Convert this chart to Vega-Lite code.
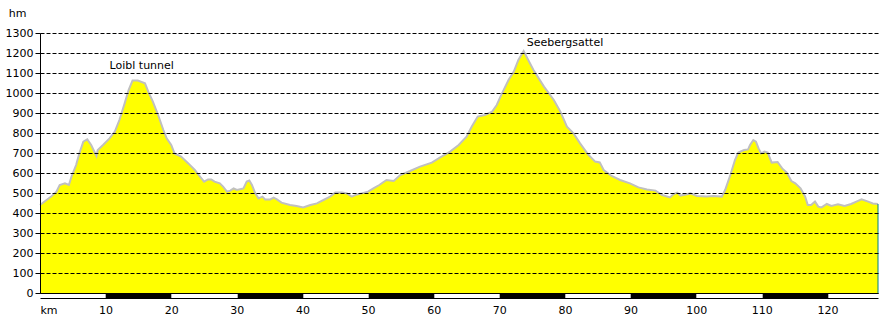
{
  "$schema": "https://vega.github.io/schema/vega-lite/v6.json",
  "width": 838,
  "height": 260,
  "autosize": "none",
  "padding": {"left": 40, "top": 33, "right": 12, "bottom": 25},
  "background": "white",
  "config": {"view": {"stroke": null}, "font": "DejaVu Sans"},
  "datasets": {
    "profile": [
      {"km": 0, "elev": 440}, {"km": 1.7, "elev": 482}, {"km": 2.5, "elev": 507}, {"km": 3.0, "elev": 540},
      {"km": 3.8, "elev": 548}, {"km": 4.4, "elev": 540}, {"km": 4.8, "elev": 582}, {"km": 5.5, "elev": 640},
      {"km": 6.0, "elev": 698}, {"km": 6.6, "elev": 757}, {"km": 7.2, "elev": 768}, {"km": 7.8, "elev": 740},
      {"km": 8.6, "elev": 685}, {"km": 8.8, "elev": 715}, {"km": 9.6, "elev": 740}, {"km": 10.6, "elev": 773},
      {"km": 11.4, "elev": 807}, {"km": 12.1, "elev": 865}, {"km": 12.9, "elev": 948}, {"km": 13.5, "elev": 1015},
      {"km": 14.1, "elev": 1062}, {"km": 14.9, "elev": 1062}, {"km": 16.0, "elev": 1048}, {"km": 16.5, "elev": 1007},
      {"km": 17.2, "elev": 957}, {"km": 18.0, "elev": 890}, {"km": 18.8, "elev": 815}, {"km": 19.3, "elev": 773},
      {"km": 20.0, "elev": 740}, {"km": 20.5, "elev": 698}, {"km": 21.5, "elev": 682}, {"km": 22.6, "elev": 648},
      {"km": 23.6, "elev": 615}, {"km": 24.3, "elev": 585}, {"km": 25.0, "elev": 557}, {"km": 25.6, "elev": 568},
      {"km": 26.1, "elev": 568}, {"km": 26.6, "elev": 557}, {"km": 27.4, "elev": 548}, {"km": 27.9, "elev": 532},
      {"km": 28.5, "elev": 507}, {"km": 29.0, "elev": 512}, {"km": 29.5, "elev": 523}, {"km": 30.0, "elev": 515},
      {"km": 31.0, "elev": 523}, {"km": 31.5, "elev": 557}, {"km": 31.9, "elev": 562}, {"km": 32.3, "elev": 540},
      {"km": 32.8, "elev": 498}, {"km": 33.3, "elev": 473}, {"km": 33.9, "elev": 482}, {"km": 34.3, "elev": 468},
      {"km": 35.1, "elev": 468}, {"km": 35.6, "elev": 477}, {"km": 36.1, "elev": 468}, {"km": 36.8, "elev": 452},
      {"km": 38.1, "elev": 440}, {"km": 39.1, "elev": 435}, {"km": 40.1, "elev": 428}, {"km": 41.2, "elev": 440},
      {"km": 42.2, "elev": 448}, {"km": 43.2, "elev": 465}, {"km": 44.2, "elev": 482}, {"km": 45.0, "elev": 502},
      {"km": 46.0, "elev": 502}, {"km": 46.8, "elev": 498}, {"km": 47.5, "elev": 482}, {"km": 48.3, "elev": 493},
      {"km": 49.0, "elev": 498}, {"km": 50.0, "elev": 507}, {"km": 50.8, "elev": 523}, {"km": 51.7, "elev": 540},
      {"km": 52.8, "elev": 565}, {"km": 53.9, "elev": 560}, {"km": 54.9, "elev": 590}, {"km": 56.4, "elev": 610},
      {"km": 57.9, "elev": 632}, {"km": 59.7, "elev": 652}, {"km": 61.0, "elev": 678}, {"km": 62.5, "elev": 707},
      {"km": 63.8, "elev": 740}, {"km": 65.0, "elev": 782}, {"km": 65.8, "elev": 832}, {"km": 66.7, "elev": 882},
      {"km": 67.8, "elev": 890}, {"km": 68.9, "elev": 907}, {"km": 69.6, "elev": 940}, {"km": 70.4, "elev": 998},
      {"km": 71.4, "elev": 1065}, {"km": 72.2, "elev": 1107}, {"km": 72.9, "elev": 1165}, {"km": 73.7, "elev": 1210},
      {"km": 74.4, "elev": 1165}, {"km": 75.2, "elev": 1115}, {"km": 76.0, "elev": 1073}, {"km": 76.8, "elev": 1032},
      {"km": 78.3, "elev": 965}, {"km": 79.3, "elev": 907}, {"km": 80.3, "elev": 832}, {"km": 81.3, "elev": 798},
      {"km": 82.3, "elev": 748}, {"km": 83.6, "elev": 690}, {"km": 84.6, "elev": 657}, {"km": 85.3, "elev": 653},
      {"km": 85.9, "elev": 615}, {"km": 87.1, "elev": 585}, {"km": 88.4, "elev": 565}, {"km": 89.9, "elev": 548},
      {"km": 91.2, "elev": 528}, {"km": 92.5, "elev": 518}, {"km": 93.8, "elev": 512}, {"km": 94.8, "elev": 490},
      {"km": 96.0, "elev": 478}, {"km": 96.5, "elev": 493}, {"km": 97.1, "elev": 502}, {"km": 97.6, "elev": 487},
      {"km": 99.1, "elev": 498}, {"km": 100.1, "elev": 485}, {"km": 101.6, "elev": 482}, {"km": 102.6, "elev": 485},
      {"km": 103.9, "elev": 482}, {"km": 104.4, "elev": 515}, {"km": 105.2, "elev": 590}, {"km": 105.9, "elev": 665},
      {"km": 106.4, "elev": 702}, {"km": 107.3, "elev": 715}, {"km": 107.9, "elev": 718}, {"km": 108.2, "elev": 740},
      {"km": 108.7, "elev": 765}, {"km": 109.1, "elev": 757}, {"km": 109.5, "elev": 723}, {"km": 109.9, "elev": 698},
      {"km": 110.4, "elev": 707}, {"km": 110.9, "elev": 702}, {"km": 111.5, "elev": 652}, {"km": 112.4, "elev": 655},
      {"km": 113.1, "elev": 623}, {"km": 113.8, "elev": 602}, {"km": 114.5, "elev": 560}, {"km": 115.1, "elev": 548},
      {"km": 115.9, "elev": 523}, {"km": 116.6, "elev": 482}, {"km": 117.0, "elev": 440}, {"km": 117.5, "elev": 440},
      {"km": 118.1, "elev": 457}, {"km": 118.6, "elev": 432}, {"km": 119.1, "elev": 428}, {"km": 119.9, "elev": 445},
      {"km": 120.6, "elev": 435}, {"km": 121.6, "elev": 443}, {"km": 122.6, "elev": 435}, {"km": 123.6, "elev": 445},
      {"km": 124.4, "elev": 457}, {"km": 125.2, "elev": 468}, {"km": 126.2, "elev": 457}, {"km": 126.9, "elev": 448},
      {"km": 127.7, "elev": 445}
    ],
    "places": [
      {"km": 15.5, "elev": 1133, "label": "Loibl tunnel"},
      {"km": 80.0, "elev": 1248, "label": "Seebergsattel"}
    ]
  },
  "resolve": {"axis": {"x": "independent"}},
  "encoding": {
    "y": {
      "field": "elev", "type": "quantitative",
      "scale": {"domain": [0, 1300], "nice": false},
      "axis": {
        "orient": "left",
        "values": [0, 100, 200, 300, 400, 500, 600, 700, 800, 900, 1000, 1100, 1200, 1300],
        "format": "d",
        "labelOverlap": false,
        "grid": true,
        "gridColor": "black",
        "gridDash": [4, 2],
        "gridWidth": 1,
        "gridOpacity": 1,
        "tickSize": 5,
        "tickColor": "black",
        "domainColor": "black",
        "labelFont": "DejaVu Sans",
        "labelFontSize": 11,
        "labelColor": "black",
        "labelPadding": 2,
        "title": "hm",
        "titleAngle": 0,
        "titleX": -23,
        "titleY": -20,
        "titleAlign": "center",
        "titleBaseline": "middle",
        "titleFont": "DejaVu Sans",
        "titleFontSize": 11,
        "titleFontWeight": "normal",
        "titleColor": "black",
        "zindex": 1
      }
    }
  },
  "layer": [
    {
      "data": {"name": "profile"},
      "mark": {"type": "area", "color": "#ffff00", "fillOpacity": 1, "line": {"color": "#c0c0c0", "strokeWidth": 2}},
      "encoding": {
        "x": {
          "field": "km", "type": "quantitative",
          "scale": {"domain": [0, 127.7], "nice": false},
          "axis": {
            "orient": "bottom",
            "values": [0, 10, 20, 30, 40, 50, 60, 70, 80, 90, 100, 110, 120],
            "labelExpr": "datum.value == 0 ? 'km' : datum.label",
            "labelFlush": true,
            "labelOverlap": false,
            "offset": 5,
            "ticks": true,
            "tickSize": 0,
            "domain": true,
            "domainColor": "black",
            "domainWidth": 1,
            "grid": false,
            "labelFont": "DejaVu Sans",
            "labelFontSize": 11,
            "labelColor": "black",
            "labelPadding": 6,
            "title": null,
            "zindex": 1
          }
        }
      }
    },
    {
      "data": {"name": "profile"},
      "transform": [{"filter": "datum.km == 127.7"}],
      "mark": {"type": "rule", "color": "#008080", "strokeWidth": 1},
      "encoding": {
        "x": {"field": "km", "type": "quantitative", "axis": null},
        "y2": {"datum": 0}
      }
    },
    {
      "data": {"name": "places"},
      "mark": {"type": "text", "font": "DejaVu Sans", "fontSize": 11, "color": "black", "baseline": "middle", "align": "center"},
      "encoding": {
        "x": {
          "field": "km", "type": "quantitative",
          "axis": {
            "orient": "bottom",
            "values": [15, 35, 55, 75, 95, 115],
            "labels": false,
            "tickSize": 5,
            "tickWidth": 65.6,
            "tickCap": "butt",
            "tickColor": "black",
            "domain": true,
            "domainColor": "black",
            "grid": false,
            "title": null,
            "zindex": 1
          }
        },
        "text": {"field": "label"}
      }
    }
  ]
}
